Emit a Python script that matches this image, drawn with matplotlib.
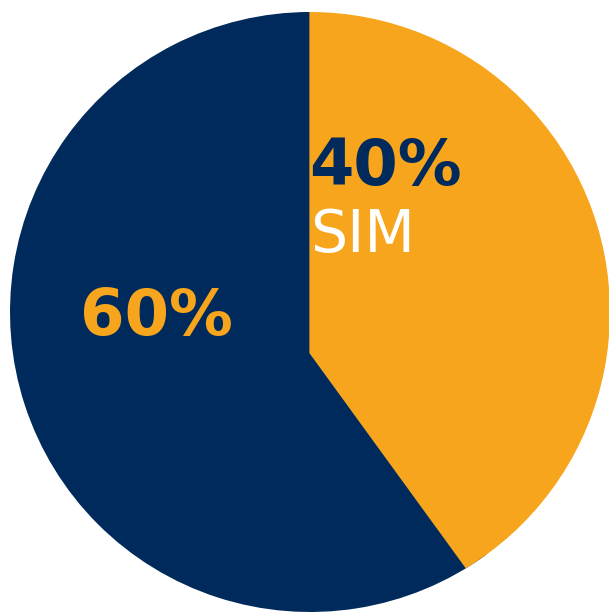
import matplotlib
matplotlib.use("Agg")
import matplotlib.pyplot as plt
from matplotlib.patches import Circle

# share of answers
labels = ["SIM", ""]
values = [40, 60]
colors = ["#F7A51D", "#002A5C"]

fig = plt.figure(figsize=(6.09, 6.14), dpi=100)
ax = fig.add_axes([0, 0, 1, 1])

wedges, _ = ax.pie(
    values,
    colors=colors,
    startangle=90,
    counterclock=False,
    radius=1.0,
    wedgeprops=dict(linewidth=0, antialiased=True),
)

# the yes-slice has its tip pushed below the centre, trimmed back to the disc
disc = Circle((0, 0), 1.0, transform=ax.transData)
yes = wedges[0]
yes.set_center((-0.002, -0.137))
yes.set_radius(1.5)
yes.set_clip_on(True)
yes.set_clip_path(disc)
yes.set_zorder(3)

ax.text(-0.003, 0.423, f"{values[0]}%", color=colors[1], fontsize=46,
        fontweight="bold", ha="left", va="baseline", zorder=5)
ax.text(0.0, 0.2, labels[0], color="white", fontsize=42,
        ha="left", va="baseline", zorder=5)
ax.text(-0.767, -0.077, f"{values[1]}%", color=colors[0], fontsize=46,
        fontweight="bold", ha="left", va="baseline", zorder=5)

ax.set_xlim(-310 / 300, 299 / 300)
ax.set_ylim(-302 / 300, 312 / 300)
ax.set_aspect("equal")
ax.axis("off")

fig.savefig("out.png", dpi=100)
